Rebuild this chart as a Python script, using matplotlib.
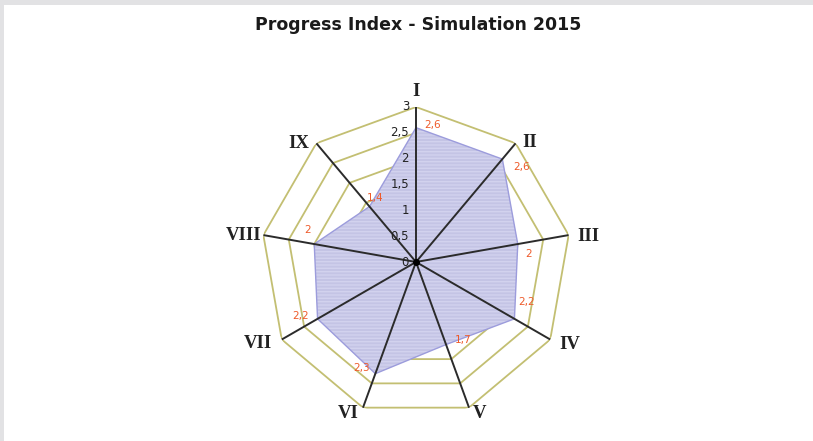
import numpy as np
import matplotlib
matplotlib.use("Agg")
import matplotlib.pyplot as plt
from matplotlib.patches import Rectangle

# data
categories = ["I", "II", "III", "IV", "V", "VI", "VII", "VIII", "IX"]
values = [2.6, 2.6, 2.0, 2.2, 1.7, 2.3, 2.2, 2.0, 1.4]
grid_levels = [0.5, 1.0, 1.5, 2.0, 2.5, 3.0]
tick_values = [0, 0.5, 1, 1.5, 2, 2.5, 3]
title = "Progress Index - Simulation 2015"

# value label offsets (points), Excel style placement
label_offsets = [(12, 2), (14, -6), (8, -7), (9, 12), (12, 3), (-10, 4), (-12, 2), (-5, 10), (4, 6)]
# category label placement: (ha, va, offset in points)
cat_place = [("center", "baseline", (0, 8)), ("left", "center", (4.5, 0.7)),
             ("left", "center", (6, -0.7)), ("left", "center", (6.5, -3.5)),
             ("left", "center", (3, -4.5)), ("right", "center", (-3, -4.5)),
             ("right", "center", (-7, -3)), ("right", "center", (-1.5, 0)),
             ("right", "center", (-5, 0))]

GRID_COLOR = "#c3bf72"
SPOKE_COLOR = "#2b2b2b"
FILL_COLOR = "#c4c4e5"
EDGE_COLOR = "#9c9cdc"
LABEL_COLOR = "#ee5a2a"

fig = plt.figure(figsize=(8.13, 4.41), dpi=100)
fig.patch.set_facecolor("white")

# grey frame strips at top and left
fig.patches.append(Rectangle((0, 1 - 5 / 441), 1, 5 / 441, transform=fig.transFigure,
                             facecolor="#e2e2e4", edgecolor="none"))
fig.patches.append(Rectangle((0, 0), 4 / 813, 1, transform=fig.transFigure,
                             facecolor="#e2e2e4", edgecolor="none"))

fig.text(418 / 813, 1 - 25 / 441, title, ha="center", va="center",
         fontsize=12.5, fontweight="bold", color="#1a1a1a", family="DejaVu Sans")

ax = fig.add_axes([261 / 813, 24 / 441, 310 / 813, 310 / 441], projection="polar")
ax.set_theta_offset(np.pi / 2)
ax.set_theta_direction(-1)
ax.set_ylim(0, 3)
ax.grid(False)
ax.set_xticks([])
ax.set_yticks([])
ax.spines["polar"].set_visible(False)
ax.patch.set_alpha(0)

n = len(categories)
angles = np.arange(n) * 2 * np.pi / n
closed = np.append(angles, angles[0])

# polygon gridlines
for lvl in grid_levels:
    ax.plot(closed, [lvl] * (n + 1), color=GRID_COLOR, lw=1.3, zorder=1)

# filled data area (opaque, covers inner gridlines)
vals_closed = values + values[:1]
ax.fill(closed, vals_closed, facecolor=FILL_COLOR, edgecolor="#d2d2ee",
        hatch="-----", lw=0, zorder=2)
ax.plot(closed, vals_closed, color=EDGE_COLOR, lw=1.0, zorder=3)

# spokes
for a in angles:
    ax.plot([a, a], [0, 3], color=SPOKE_COLOR, lw=1.4, zorder=4)
ax.plot([0], [0], marker="o", ms=4, color="black", zorder=5)

# category labels
for a, cat, (ha, va, off) in zip(angles, categories, cat_place):
    ax.annotate(cat, xy=(a, 3), xytext=off, textcoords="offset points",
                ha=ha, va=va, fontsize=13.5, fontweight="bold",
                family="Liberation Serif", color="#222222", zorder=6)

# radial tick labels along axis I
for t in tick_values:
    txt = f"{t:g}".replace(".", ",")
    ax.annotate(txt, xy=(0, t), xytext=(-5, 0), textcoords="offset points",
                ha="right", va="center", fontsize=8.5, color="#222222", zorder=6)

# value labels
for a, v, off in zip(angles, values, label_offsets):
    txt = f"{v:g}".replace(".", ",")
    ax.annotate(txt, xy=(a, v), xytext=off, textcoords="offset points",
                ha="center", va="center", fontsize=7.5, color=LABEL_COLOR, zorder=6)

fig.savefig("out.png", dpi=100)
